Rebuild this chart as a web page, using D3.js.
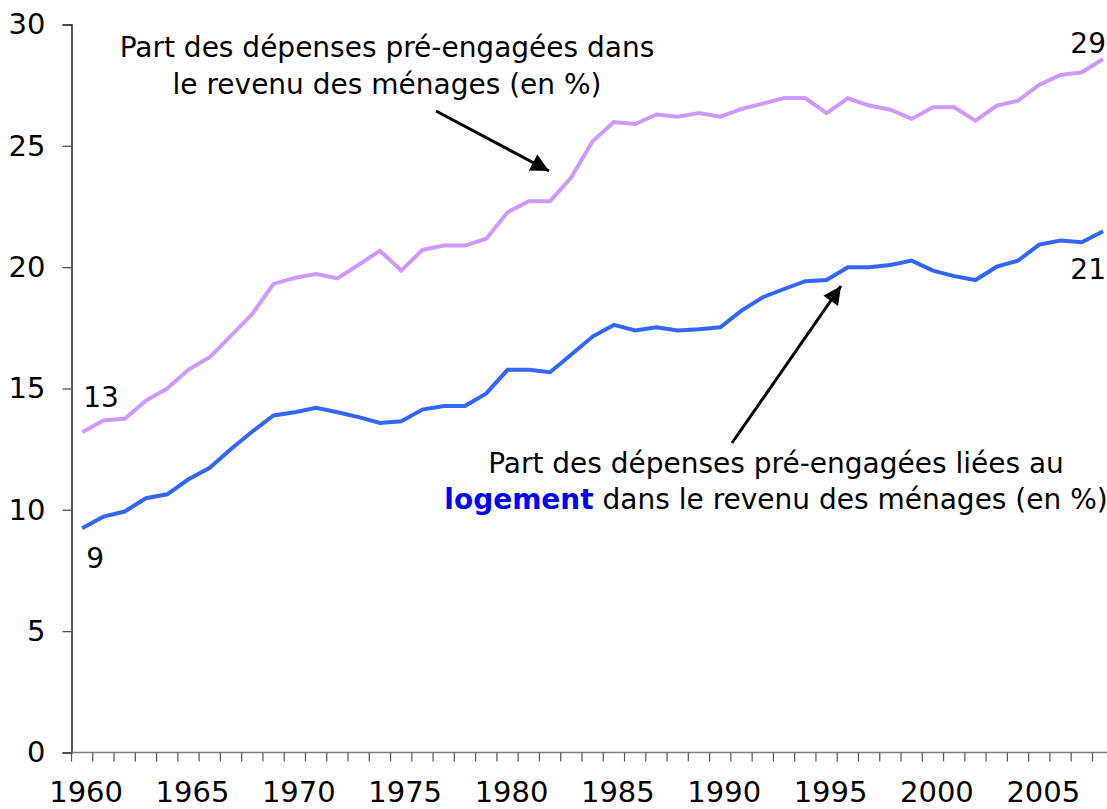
<!DOCTYPE html>
<html>
<head>
<meta charset="utf-8">
<script src="https://cdn.jsdelivr.net/npm/d3@7"></script>
<style>
	body { margin: 0; background: #fff; }
	text { font-family: "DejaVu Sans", Verdana, sans-serif; }
</style>
</head>
<body>
<div id="chart"></div>
<script>
const years = [1960, 1961, 1962, 1963, 1964, 1965, 1966, 1967, 1968, 1969,
	1970, 1971, 1972, 1973, 1974, 1975, 1976, 1977, 1978, 1979,
	1980, 1981, 1982, 1983, 1984, 1985, 1986, 1987, 1988, 1989,
	1990, 1991, 1992, 1993, 1994, 1995, 1996, 1997, 1998, 1999,
	2000, 2001, 2002, 2003, 2004, 2005, 2006, 2007, 2008];

// part des dépenses pré-engagées (total)
const total = [13.2, 13.68, 13.75, 14.5, 15.0, 15.78, 16.29, 17.18, 18.07, 19.31,
	19.56, 19.72, 19.54, 20.1, 20.68, 19.86, 20.71, 20.89, 20.89, 21.17,
	22.26, 22.72, 22.72, 23.7, 25.19, 25.98, 25.9, 26.29, 26.2, 26.35,
	26.2, 26.52, 26.74, 26.97, 26.97, 26.35, 26.96, 26.66, 26.49, 26.11,
	26.59, 26.59, 26.04, 26.66, 26.86, 27.52, 27.92, 28.03, 28.58];

// part liée au logement
const logement = [9.24, 9.72, 9.93, 10.48, 10.64, 11.26, 11.73, 12.51, 13.23, 13.89,
	14.02, 14.2, 14.02, 13.82, 13.58, 13.65, 14.13, 14.28, 14.28, 14.8,
	15.77, 15.77, 15.67, 16.4, 17.14, 17.62, 17.39, 17.52, 17.39, 17.44,
	17.52, 18.21, 18.76, 19.1, 19.42, 19.47, 20.0, 20.0, 20.09, 20.27,
	19.86, 19.63, 19.47, 20.02, 20.27, 20.93, 21.1, 21.03, 21.48];

const y_ticks = [0, 5, 10, 15, 20, 25, 30];
const x_labels = [1960, 1965, 1970, 1975, 1980, 1985, 1990, 1995, 2000, 2005];

const width = 1107;
const height = 809;
const tick_font = 29;
const font_size = 28;

const svg = d3.select('#chart').append('svg')
	.attr('width', width)
	.attr('height', height);

const x = d3.scaleBand()
	.domain(years)
	.range([71.5, 71.5 + 49 * 21.27]);
const xc = d => x(d) + x.bandwidth() / 2;

const y = d3.scaleLinear()
	.domain([0, 30])
	.range([752.5, 24.5]);

// y axis
const y_axis = svg.append('g')
	.attr('transform', `translate(${x.range()[0]},0)`)
	.call(d3.axisLeft(y).tickValues(y_ticks).tickSize(9).tickPadding(17));
y_axis.select('.domain').attr('stroke', '#000').attr('stroke-width', 1.3);
y_axis.selectAll('.tick line').attr('stroke', '#555').attr('stroke-width', 1.3);
y_axis.selectAll('.tick text')
	.attr('font-size', tick_font)
	.attr('fill', '#000');

// x axis: ticks between categories, labels every 5 years
const x_axis = svg.append('g').attr('transform', `translate(0,${y(0)})`);
x_axis.append('line')
	.attr('x1', x.range()[0])
	.attr('x2', x.range()[1])
	.attr('stroke', '#808080')
	.attr('stroke-width', 1.5);
x_axis.selectAll('line.tick')
	.data(years)
	.enter()
	.append('line')
	.attr('class', 'tick')
	.attr('x1', d => x(d))
	.attr('x2', d => x(d))
	.attr('y1', 0)
	.attr('y2', 9)
	.attr('stroke', '#555')
	.attr('stroke-width', 1.2);
x_axis.selectAll('text')
	.data(x_labels)
	.enter()
	.append('text')
	.attr('x', d => xc(d) + 4)
	.attr('y', 49.5)
	.attr('text-anchor', 'middle')
	.attr('font-size', tick_font)
	.text(d => d);

// lines
const line = d3.line()
	.x((d, i) => xc(years[i]))
	.y(d => y(d));

svg.append('path')
	.datum(total)
	.attr('d', line)
	.attr('fill', 'none')
	.attr('stroke', '#CC99FF')
	.attr('stroke-width', 4);

svg.append('path')
	.datum(logement)
	.attr('d', line)
	.attr('fill', 'none')
	.attr('stroke', '#3366FF')
	.attr('stroke-width', 4);

// end values
const first = 0;
const last = years.length - 1;
const end_label = (txt, px, py, anchor) => svg.append('text')
	.attr('x', px)
	.attr('y', py)
	.attr('text-anchor', anchor)
	.attr('font-size', font_size)
	.text(txt);

end_label('13', xc(years[first]) + 1, y(total[first]) - 25, 'start');
end_label('9', xc(years[first]) + 4, y(logement[first]) + 40, 'start');
end_label('29', 1106, y(total[last]) - 6, 'end');
end_label('21', 1106, y(logement[last]) + 48, 'end');

// arrows
const defs = svg.append('defs');
defs.append('marker')
	.attr('id', 'head')
	.attr('viewBox', '0 0 10 10')
	.attr('refX', 10)
	.attr('refY', 5)
	.attr('markerWidth', 7)
	.attr('markerHeight', 6)
	.attr('markerUnits', 'strokeWidth')
	.attr('orient', 'auto')
	.append('path')
	.attr('d', 'M0,0 L10,5 L0,10 Z')
	.attr('fill', '#000');

const arrows = [
	{ x1: 436, y1: 111, x2: 549, y2: 171 },
	{ x1: 732, y1: 443, x2: 841, y2: 286 },
];
svg.selectAll('line.arrow')
	.data(arrows)
	.enter()
	.append('line')
	.attr('class', 'arrow')
	.attr('x1', d => d.x1)
	.attr('y1', d => d.y1)
	.attr('x2', d => d.x2)
	.attr('y2', d => d.y2)
	.attr('stroke', '#000')
	.attr('stroke-width', 3)
	.attr('marker-end', 'url(#head)');

// annotations
const note1 = svg.append('text')
	.attr('text-anchor', 'middle')
	.attr('font-size', font_size);
note1.append('tspan').attr('x', 387).attr('y', 57).text('Part des dépenses pré-engagées dans');
note1.append('tspan').attr('x', 387).attr('y', 94).text('le revenu des ménages (en %)');

const note2 = svg.append('text')
	.attr('text-anchor', 'middle')
	.attr('font-size', font_size);
note2.append('tspan').attr('x', 776).attr('y', 473).text('Part des dépenses pré-engagées liées au');
const l2 = note2.append('tspan').attr('x', 776).attr('y', 509);
l2.append('tspan').attr('font-weight', 'bold').attr('fill', '#0000FF').text('logement');
l2.append('tspan').text(' dans le revenu des ménages (en %)');
</script>
</body>
</html>
